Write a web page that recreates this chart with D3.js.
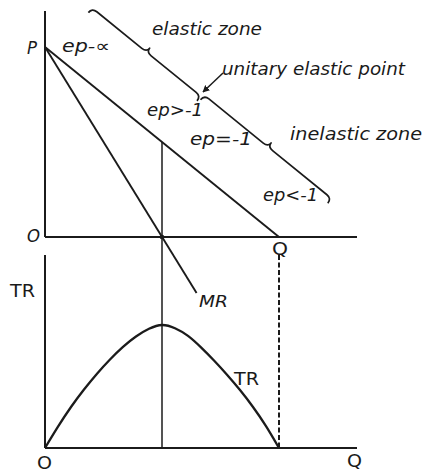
<!DOCTYPE html>
<html>
<head>
<meta charset="utf-8">
<script src="https://cdn.jsdelivr.net/npm/d3@7"></script>
<style>
  html, body { margin: 0; padding: 0; background: #fff; }
  svg { display: block; }
  text { fill: #1a1a1a; }
</style>
</head>
<body>
<svg id="chart" width="424" height="472"></svg>
<script>
// ---- data ----
const demandQ = [0, 9];
const demandP = [10, 0];
const mrQ = [0, 5.83];
const mrP = [10, -2.95];
const unitQ = 4.5;          // unitary elastic output
const unitP = 5;            // price at unitary elastic point
const trQ = [0, 0.5, 1, 1.5, 2, 2.5, 3, 3.5, 4, 4.5, 5, 5.5, 6, 6.5, 7, 7.5, 8, 8.5, 9];
const trV = [0, 3.9, 7.5, 10.7, 13.6, 16.2, 18.5, 20.4, 21.8, 22.5, 21.9, 20.5, 18.4, 16.0, 13.4, 10.6, 7.5, 4.0, 0];

// ---- layout ----
const svg = d3.select("#chart");
const ink = "#1b1b1b";
const x = d3.scaleLinear().domain([0, 12]).range([45, 357]);
const yP = d3.scaleLinear().domain([0, 12]).range([237, 9]);
const yT = d3.scaleLinear().domain([0, 36]).range([448, 251.2]);

const line = (pts) => d3.line()(pts);

// axes - top panel
svg.append("path").attr("d", line([[x(0), yP(11.9)], [x(0), yP(0)]]))
  .attr("stroke", ink).attr("stroke-width", 2).attr("fill", "none");
svg.append("path").attr("d", line([[x(0), yP(0)], [x(12), yP(0)]]))
  .attr("stroke", ink).attr("stroke-width", 2).attr("fill", "none");
// axes - bottom panel
svg.append("path").attr("d", line([[x(0), yT(35.3)], [x(0), yT(0)]]))
  .attr("stroke", ink).attr("stroke-width", 2).attr("fill", "none");
svg.append("path").attr("d", line([[x(0), yT(0)], [x(12), yT(0)]]))
  .attr("stroke", ink).attr("stroke-width", 2).attr("fill", "none");

// demand line
svg.append("path")
  .attr("d", line(demandQ.map((q, i) => [x(q), yP(demandP[i])])))
  .attr("stroke", ink).attr("stroke-width", 1.9).attr("fill", "none");
// MR line
svg.append("path")
  .attr("d", line(mrQ.map((q, i) => [x(q), yP(mrP[i])])))
  .attr("stroke", ink).attr("stroke-width", 1.9).attr("fill", "none");
// vertical through unitary point
svg.append("path")
  .attr("d", line([[x(unitQ), yP(unitP)], [x(unitQ), yT(0)]]))
  .attr("stroke", ink).attr("stroke-width", 1.5).attr("fill", "none");
svg.append("circle").attr("cx", x(unitQ)).attr("cy", yP(0)).attr("r", 2.3).attr("fill", ink);
// dashed line at Q
svg.append("path")
  .attr("d", line([[x(demandQ[1]), yT(35.3)], [x(demandQ[1]), yT(0)]]))
  .attr("stroke", ink).attr("stroke-width", 2).attr("stroke-dasharray", "5,2.5").attr("fill", "none");

// TR curve
svg.append("path")
  .attr("d", d3.line().curve(d3.curveNatural)
    .x((d, i) => x(trQ[i])).y(d => yT(d))(trV))
  .attr("stroke", ink).attr("stroke-width", 2.3).attr("fill", "none");

// braces parallel to the demand line
const P0 = [x(demandQ[0]), yP(demandP[0])];
const P1 = [x(demandQ[1]), yP(demandP[1])];
const len = Math.hypot(P1[0] - P0[0], P1[1] - P0[1]);
const u = [(P1[0] - P0[0]) / len, (P1[1] - P0[1]) / len];
const n = [u[1], -u[0]];
const pt = (a, b) => [P0[0] + a * u[0] + b * n[0], P0[1] + a * u[1] + b * n[1]];
function brace(a0, a1, base, h, t) {
  const m = (a0 + a1) / 2, r = 6;
  const p = d3.path();
  let s = pt(a0, base); p.moveTo(s[0], s[1]);
  let c = pt(a0, base + h), e = pt(a0 + r, base + h); p.quadraticCurveTo(c[0], c[1], e[0], e[1]);
  e = pt(m - r, base + h); p.lineTo(e[0], e[1]);
  c = pt(m, base + h); e = pt(m, base + h + t); p.quadraticCurveTo(c[0], c[1], e[0], e[1]);
  c = pt(m, base + h); e = pt(m + r, base + h); p.quadraticCurveTo(c[0], c[1], e[0], e[1]);
  e = pt(a1 - r, base + h); p.lineTo(e[0], e[1]);
  c = pt(a1, base + h); e = pt(a1, base); p.quadraticCurveTo(c[0], c[1], e[0], e[1]);
  return p.toString();
}
svg.append("path").attr("d", brace(12, 152, 54, 6, 5))
  .attr("stroke", ink).attr("stroke-width", 1.7).attr("fill", "none").attr("stroke-linejoin", "round");
svg.append("path").attr("d", brace(154, 318, 57, 6, 5))
  .attr("stroke", ink).attr("stroke-width", 1.7).attr("fill", "none").attr("stroke-linejoin", "round");

// arrow to unitary elastic point
svg.append("defs").append("marker").attr("id", "ah")
  .attr("viewBox", "0 0 10 10").attr("refX", 9).attr("refY", 5)
  .attr("markerWidth", 7).attr("markerHeight", 7).attr("orient", "auto")
  .attr("markerUnits", "userSpaceOnUse")
  .append("path").attr("d", "M0,0 L10,5 L0,10 z").attr("fill", ink);
svg.append("path").attr("d", line([[223, 73], [203, 92]]))
  .attr("stroke", ink).attr("stroke-width", 1.5).attr("marker-end", "url(#ah)");

// labels
const labels = [
  { t: "P", x: 27, y: 54, w: 10, s: 17, it: true },
  { t: "ep-\u221D", x: 62, y: 52, w: 48, s: 17, it: true },
  { t: "elastic zone", x: 152, y: 35, w: 110, s: 17, it: true },
  { t: "unitary elastic point", x: 222, y: 75, w: 183, s: 17, it: true },
  { t: "ep>-1", x: 147, y: 116, w: 56, s: 17, it: true },
  { t: "ep=-1", x: 190, y: 145, w: 62, s: 17, it: true },
  { t: "inelastic zone", x: 290, y: 140, w: 132, s: 17, it: true },
  { t: "ep<-1", x: 263, y: 201, w: 55, s: 17, it: true },
  { t: "O", x: 27, y: 242, w: 13, s: 18, it: true },
  { t: "Q", x: 272, y: 255, w: 16, s: 18, it: false },
  { t: "TR", x: 10, y: 297, w: 25, s: 17, it: false },
  { t: "MR", x: 199, y: 307, w: 29, s: 16, it: true },
  { t: "TR", x: 234, y: 385, w: 25, s: 17, it: false },
  { t: "O", x: 37, y: 469, w: 15, s: 18, it: false },
  { t: "Q", x: 347, y: 467, w: 15, s: 18, it: false }
];
svg.selectAll("text.lbl").data(labels).join("text")
  .attr("class", "lbl")
  .attr("x", d => d.x).attr("y", d => d.y)
  .attr("textLength", d => d.w).attr("lengthAdjust", "spacingAndGlyphs")
  .style("font-family", "'DejaVu Sans', sans-serif")
  .style("font-size", d => d.s + "px")
  .style("font-style", d => d.it ? "italic" : "normal")
  .text(d => d.t);
</script>
</body>
</html>
